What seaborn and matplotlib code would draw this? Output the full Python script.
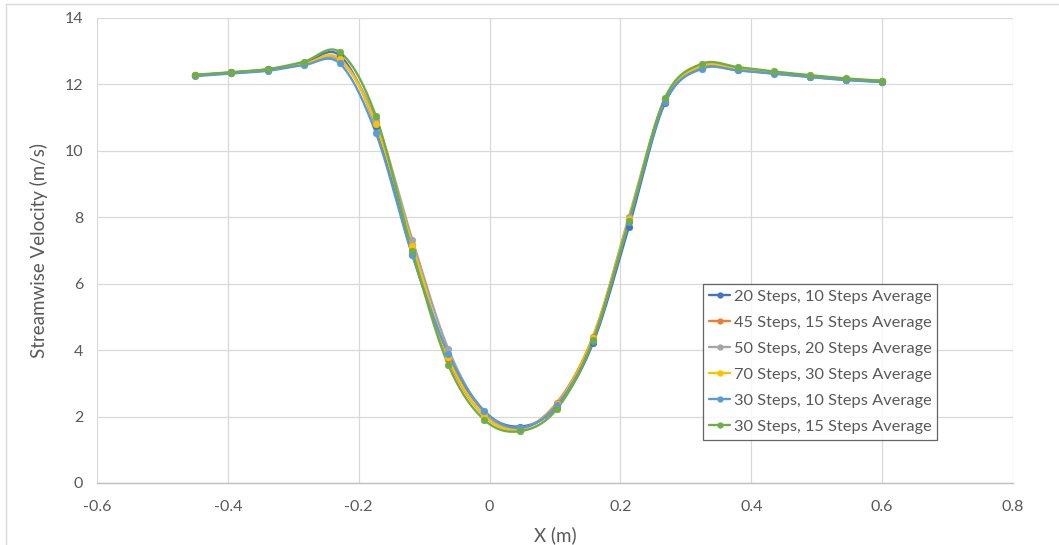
import numpy as np
import pandas as pd
import matplotlib
matplotlib.use("Agg")
import matplotlib.pyplot as plt
from matplotlib.lines import Line2D
import seaborn as sns

# ---------------- data ----------------
x_pos = [-0.45, -0.395, -0.339, -0.284, -0.229, -0.174, -0.118, -0.063, -0.008, 0.047,
         0.103, 0.158, 0.213, 0.268, 0.324, 0.379, 0.434, 0.489, 0.545, 0.6]

labels = ["20 Steps, 10 Steps Average", "45 Steps, 15 Steps Average",
          "50 Steps, 20 Steps Average", "70 Steps, 30 Steps Average",
          "30 Steps, 10 Steps Average", "30 Steps, 15 Steps Average"]

v_20_10 = [12.27, 12.36, 12.45, 12.64, 12.87, 10.75, 6.88, 3.85, 2.15, 1.70,
           2.30, 4.21, 7.72, 11.44, 12.50, 12.43, 12.33, 12.23, 12.14, 12.08]
v_45_15 = [12.27, 12.34, 12.43, 12.60, 12.76, 10.88, 7.15, 3.73, 2.02, 1.63,
           2.42, 4.41, 7.95, 11.55, 12.55, 12.47, 12.36, 12.26, 12.16, 12.10]
v_50_20 = [12.28, 12.35, 12.44, 12.62, 12.72, 10.95, 7.32, 4.03, 2.12, 1.66,
           2.35, 4.35, 8.02, 11.55, 12.55, 12.47, 12.36, 12.26, 12.16, 12.10]
v_70_30 = [12.27, 12.34, 12.43, 12.61, 12.77, 10.80, 7.14, 3.78, 2.02, 1.63,
           2.38, 4.38, 7.95, 11.55, 12.56, 12.48, 12.37, 12.26, 12.17, 12.10]
v_30_10 = [12.25, 12.33, 12.41, 12.58, 12.63, 10.55, 6.85, 3.89, 2.17, 1.66,
           2.35, 4.28, 7.85, 11.47, 12.47, 12.42, 12.32, 12.22, 12.13, 12.07]
v_30_15 = [12.29, 12.37, 12.46, 12.68, 12.97, 11.06, 6.97, 3.55, 1.90, 1.56,
           2.23, 4.30, 7.90, 11.59, 12.62, 12.52, 12.39, 12.28, 12.18, 12.11]

series = [v_20_10, v_45_15, v_50_20, v_70_30, v_30_10, v_30_15]
colors = ["#4472C4", "#ED7D31", "#A5A5A5", "#FFC000", "#5B9BD5", "#70AD47"]


def smooth(xs, ys, n=30):
    """Excel-like smoothed line: cubic Bezier segments with Catmull-Rom control points."""
    P = np.column_stack([xs, ys]).astype(float)
    sx, sy = 654.0, 33.2
    Q = P * [sx, sy]
    out = []
    m = len(Q)
    t = np.linspace(0, 1, n)[:, None]
    for i in range(m - 1):
        p0 = Q[i - 1] if i > 0 else Q[i]
        p1 = Q[i]
        p2 = Q[i + 1]
        p3 = Q[i + 2] if i + 2 < m else Q[i + 1]
        c1 = p1 + (p2 - p0) / 6.0
        c2 = p2 - (p3 - p1) / 6.0
        seg = ((1 - t) ** 3) * p1 + 3 * ((1 - t) ** 2) * t * c1 + 3 * (1 - t) * t ** 2 * c2 + t ** 3 * p2
        out.append(seg if i == 0 else seg[1:])
    R = np.vstack(out) / [sx, sy]
    return R[:, 0], R[:, 1]


# ---------------- figure ----------------
sns.set_theme(style="white")
plt.rcParams["font.family"] = ["Lato", "DejaVu Sans"]

fig = plt.figure(figsize=(10.59, 5.45), dpi=100)
ax = fig.add_axes([0.0916, 0.1138, 0.865, 0.8532])

for ys, c, lab in zip(series, colors, labels):
    sxs, sys_ = smooth(x_pos, ys)
    df = pd.DataFrame({"x": sxs, "y": sys_})
    sns.lineplot(data=df, x="x", y="y", sort=False, estimator=None, color=c,
                 linewidth=1.7, ax=ax, legend=False)
    dfp = pd.DataFrame({"x": x_pos, "y": ys})
    sns.scatterplot(data=dfp, x="x", y="y", color=c, s=22, edgecolor=c,
                    linewidth=0.5, ax=ax, legend=False, zorder=3)

ax.set_xlim(-0.6, 0.8)
ax.set_ylim(0, 14)
ax.set_xticks(np.arange(-0.6, 0.81, 0.2))
ax.set_xticklabels(["-0.6", "-0.4", "-0.2", "0", "0.2", "0.4", "0.6", "0.8"])
ax.set_yticks(np.arange(0, 15, 2))
ax.grid(True, color="#D9D9D9", linewidth=0.9)
ax.set_axisbelow(True)
for s in ["top", "right", "left"]:
    ax.spines[s].set_visible(False)
ax.spines["bottom"].set_color("#BFBFBF")
ax.spines["bottom"].set_linewidth(1.0)
ax.tick_params(axis="x", colors="#595959", labelsize=11.5, length=0, pad=12)
ax.tick_params(axis="y", colors="#595959", labelsize=11.5, length=0, pad=10)
ax.set_xlabel("X (m)", fontsize=13.5, color="#595959", labelpad=9)
ax.set_ylabel("Streamwise Velocity (m/s)", fontsize=13.5, color="#595959", labelpad=12)

handles = [Line2D([0], [0], color=c, lw=1.7, marker="o", markersize=3.5) for c in colors]
leg = ax.legend(handles, labels, loc="upper left", bbox_to_anchor=(0.662, 0.428),
                fontsize=11.8, frameon=True, fancybox=False, handlelength=1.3,
                handletextpad=0.2, labelspacing=0.7, borderpad=0.35,
                borderaxespad=0)
leg.get_frame().set_edgecolor("#404040")
leg.get_frame().set_linewidth(0.9)
for t in leg.get_texts():
    t.set_color("#595959")

# chart-area border (Excel style)
fig.add_artist(Line2D([6 / 1059, 6 / 1059], [0, 1 - 4 / 545], transform=fig.transFigure,
                      color="#D9D9D9", lw=1))
fig.add_artist(Line2D([6 / 1059, 1], [1 - 4 / 545, 1 - 4 / 545], transform=fig.transFigure,
                      color="#D9D9D9", lw=1))

fig.savefig("out.png", dpi=100)
